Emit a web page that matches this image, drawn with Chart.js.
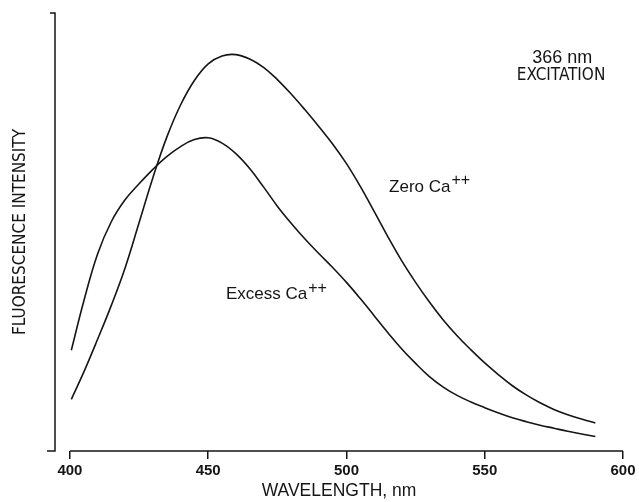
<!DOCTYPE html>
<html>
<head>
  <title>Fluorescence Spectra</title>
  <script src="https://cdn.jsdelivr.net/npm/chart.js"></script>
  <style>body { margin: 0; background: #fff; }</style>
</head>
<body>
  <canvas id="specChart" width="639" height="502"></canvas>
  <script>
    // emission spectra (arbitrary intensity units, 0-100)
    const wavelengths = [400.5, 405, 410, 415, 420, 425, 430, 435, 440, 445, 450, 455, 460, 465, 470, 475, 480, 485, 490, 495,
                         500, 505, 510, 515, 520, 525, 530, 535, 540, 545, 550, 555, 560, 565, 570, 575, 580, 585, 590];
    const zeroCa = [11.8, 18.0, 25.5, 33.3, 41.9, 52.1, 62.4, 71.6, 79.0, 84.6, 88.4, 90.2, 90.5, 89.5, 87.6, 84.8, 81.5, 77.9, 74.1, 70.1,
                    65.6, 60.4, 54.7, 48.9, 43.4, 38.5, 34.0, 29.9, 26.3, 23.1, 20.1, 17.4, 14.9, 12.8, 11.0, 9.5, 8.3, 7.3, 6.4];
    const excessCa = [23.0, 34.2, 45.0, 52.4, 57.4, 61.0, 64.3, 67.2, 69.5, 71.1, 71.5, 70.3, 67.9, 64.5, 60.3, 55.9, 52.0, 48.4, 45.1, 41.9,
                      38.5, 34.8, 30.9, 27.0, 23.3, 20.0, 17.0, 14.6, 12.7, 11.2, 9.9, 8.7, 7.6, 6.7, 5.9, 5.2, 4.5, 3.9, 3.3];
    const xTicks = [400, 450, 500, 550, 600];

    const INK = '#151515';
    const FONT = "'Liberation Sans', Arial, sans-serif";
    const CAPS = "'DejaVu Sans Condensed', 'Liberation Sans', sans-serif";

    // axis lines drawn by hand: the x axis only spans the ticks, the y axis stands apart
    const axisLines = {
      id: 'axisLines',
      afterDraw(chart) {
        const { ctx, chartArea, scales: { x, y } } = chart;
        const y0 = y.getPixelForValue(0);
        const yTop = y.getPixelForValue(100);
        ctx.save();
        ctx.strokeStyle = INK;
        ctx.lineWidth = 1.5;
        ctx.beginPath();
        ctx.moveTo(x.getPixelForValue(xTicks[0]), y0);
        ctx.lineTo(x.getPixelForValue(xTicks[xTicks.length - 1]), y0);
        ctx.moveTo(chartArea.left - 5, yTop);
        ctx.lineTo(chartArea.left, yTop);
        ctx.lineTo(chartArea.left, y0);
        ctx.lineTo(chartArea.left - 8, y0);
        ctx.stroke();
        ctx.restore();
      }
    };

    // text labels placed in data coordinates
    const notes = {
      id: 'notes',
      afterDraw(chart, args, opts) {
        const { ctx, scales: { x, y } } = chart;
        ctx.save();
        ctx.fillStyle = INK;
        ctx.textBaseline = 'middle';
        opts.items.forEach(n => {
          ctx.font = n.font;
          ctx.textAlign = n.align;
          const px = x.getPixelForValue(n.x);
          const py = y.getPixelForValue(n.y);
          ctx.fillText(n.text, px, py);
          if (n.sup) {
            const w = ctx.measureText(n.text).width;
            ctx.textAlign = 'left';
            ctx.font = '16px ' + FONT;
            ctx.fillText(n.sup, px + w + 1, py - 6);
          }
        });
        ctx.restore();
      }
    };

    new Chart(document.getElementById('specChart'), {
      type: 'line',
      data: {
        datasets: [
          { label: 'Zero Ca++', data: wavelengths.map((w, i) => ({ x: w, y: zeroCa[i] })) },
          { label: 'Excess Ca++', data: wavelengths.map((w, i) => ({ x: w, y: excessCa[i] })) }
        ]
      },
      options: {
        responsive: false,
        animation: false,
        devicePixelRatio: 1,
        layout: { padding: { top: 13, right: 16, bottom: 0, left: 0 } },
        elements: {
          line: { borderColor: INK, borderWidth: 1.6, tension: 0.4, fill: false },
          point: { radius: 0 }
        },
        plugins: {
          legend: { display: false },
          tooltip: { enabled: false },
          notes: {
            items: [
              { text: '366 nm', x: 578, y: 89.7, align: 'center', font: '18px ' + FONT },
              { text: 'EXCITATION', x: 577.6, y: 85.6, align: 'center', font: '17px ' + CAPS },
              { text: 'Zero Ca', sup: '++', x: 515.4, y: 60.3, align: 'left', font: '17px ' + FONT },
              { text: 'Excess Ca', sup: '++', x: 456.4, y: 35.8, align: 'left', font: '17px ' + FONT }
            ]
          }
        },
        scales: {
          x: {
            type: 'linear',
            min: 394.6,
            max: 600,
            afterBuildTicks: s => { s.ticks = xTicks.map(v => ({ value: v })); },
            afterFit: s => { s.height = 51; },
            border: { display: false },
            grid: { drawOnChartArea: false, drawTicks: true, tickLength: 8, color: INK, lineWidth: 1.5 },
            ticks: { color: INK, padding: 3, maxRotation: 0, autoSkip: false, font: { family: FONT, size: 15, weight: 'bold' } },
            title: { display: true, text: 'WAVELENGTH, nm', color: INK, padding: { top: 0, bottom: 0 }, font: { family: FONT, size: 17.5 } }
          },
          y: {
            min: 0,
            max: 100,
            afterFit: s => { s.width = 55; },
            border: { display: false },
            grid: { display: false },
            ticks: { display: false },
            title: { display: true, text: 'FLUORESCENCE INTENSITY', color: INK, padding: { top: 10, bottom: 0 }, font: { family: CAPS, size: 17 } }
          }
        }
      },
      plugins: [axisLines, notes]
    });
  </script>
</body>
</html>
